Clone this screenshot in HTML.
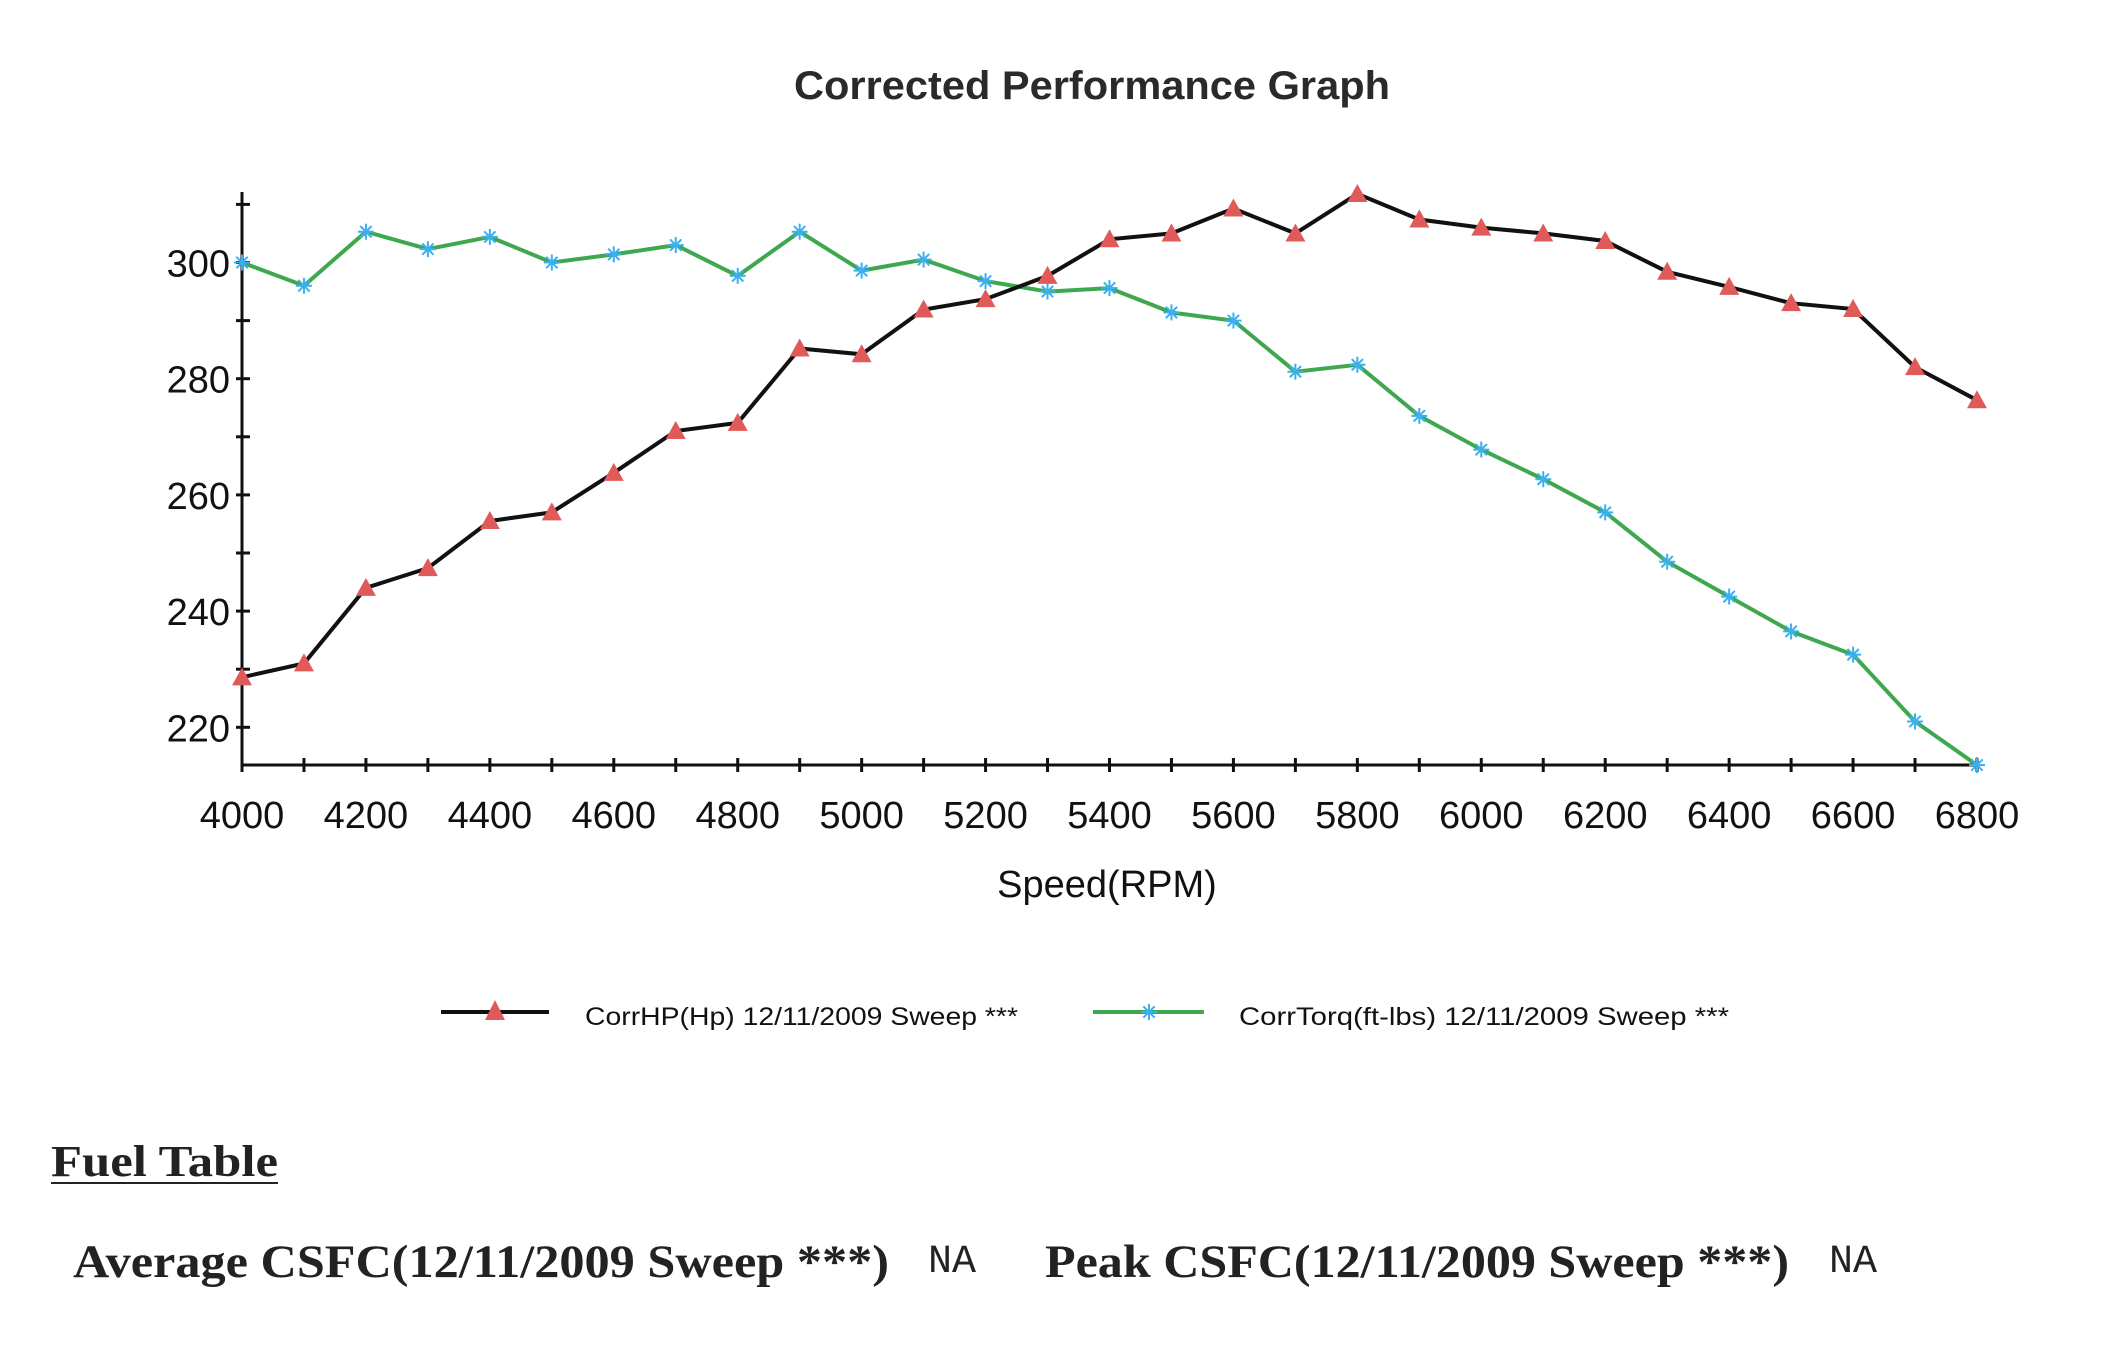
<!DOCTYPE html>
<html><head><meta charset="utf-8"><style>
html,body{margin:0;padding:0;background:#fff;}
svg{display:block;}
</style></head><body>
<svg id="s" xmlns="http://www.w3.org/2000/svg" width="2121" height="1371" viewBox="0 0 2121 1371">
<rect width="2121" height="1371" fill="#fff"/>
<text x="1092" y="99" text-anchor="middle" font-family="Liberation Sans, sans-serif" font-weight="bold" font-size="40" fill="#2a2a2a" textLength="596" lengthAdjust="spacingAndGlyphs">Corrected Performance Graph</text>
<g id="axes" stroke="#111" stroke-width="3" fill="none"></g>
<g id="lab" font-family="Liberation Sans, sans-serif" font-size="38" fill="#111"></g>
<text x="1107" y="897" text-anchor="middle" font-family="Liberation Sans, sans-serif" font-size="38" fill="#111">Speed(RPM)</text>
<g id="ser"></g>
<line x1="441" y1="1012" x2="549" y2="1012" stroke="#111" stroke-width="4"/>
<polygon points="495,1000 485,1020 505,1020" fill="#e05a5a"/>
<text x="585" y="1025" font-family="Liberation Sans, sans-serif" font-size="25" fill="#111" textLength="433" lengthAdjust="spacingAndGlyphs">CorrHP(Hp) 12/11/2009 Sweep ***</text>
<line x1="1093" y1="1012" x2="1204" y2="1012" stroke="#3fa84f" stroke-width="4"/>
<g id="lg"></g>
<text x="1239" y="1025" font-family="Liberation Sans, sans-serif" font-size="25" fill="#111" textLength="490" lengthAdjust="spacingAndGlyphs">CorrTorq(ft-lbs) 12/11/2009 Sweep ***</text>
<text x="51" y="1176" font-family="Liberation Serif, serif" font-weight="bold" font-size="44" fill="#222" textLength="227" lengthAdjust="spacingAndGlyphs">Fuel Table</text>
<line x1="51" y1="1183" x2="278" y2="1183" stroke="#222" stroke-width="2"/>
<text x="73" y="1277" font-family="Liberation Serif, serif" font-weight="bold" font-size="47" fill="#222" textLength="816" lengthAdjust="spacingAndGlyphs">Average CSFC(12/11/2009 Sweep ***)</text>
<text x="928" y="1272" font-family="Liberation Mono, monospace" font-size="40" fill="#222">NA</text>
<text x="1045" y="1277" font-family="Liberation Serif, serif" font-weight="bold" font-size="47" fill="#222" textLength="744" lengthAdjust="spacingAndGlyphs">Peak CSFC(12/11/2009 Sweep ***)</text>
<text x="1829" y="1272" font-family="Liberation Mono, monospace" font-size="40" fill="#222">NA</text>
</svg>
<script>
var NS="http://www.w3.org/2000/svg";
function el(p,t,a,txt){var e=document.createElementNS(NS,t);for(var k in a)e.setAttribute(k,a[k]);if(txt!=null)e.textContent=txt;p.appendChild(e);return e;}
function X(r){return 242+(r-4000)*(1977-242)/2800;}
function Y(v){return 262.5+(300-v)*5.81;}
var ax=document.getElementById('axes'),lab=document.getElementById('lab'),ser=document.getElementById('ser');
var yb=765,yt=192;
el(ax,'line',{x1:242,y1:yt,x2:242,y2:yb});
el(ax,'line',{x1:242,y1:yb,x2:1977,y2:yb});
for(var v=220;v<=310;v+=10){var y=Y(v);el(ax,'line',{x1:236,y1:y,x2:250,y2:y});}
for(var r=4000;r<=6800;r+=100){var x=X(r);el(ax,'line',{x1:x,y1:yb-7,x2:x,y2:yb+7});}
for(var v=220;v<=300;v+=20){el(lab,'text',{x:230,y:Y(v)+14,'text-anchor':'end'},String(v));}
for(var r=4000;r<=6800;r+=200){el(lab,'text',{x:X(r),y:828,'text-anchor':'middle'},String(r));}
var hp=[228.6,231,244,247.4,255.5,257,263.8,271,272.4,285.2,284.2,291.9,293.7,297.7,304,305,309.3,305,311.8,307.4,306,305,303.7,298.4,295.8,293,292,282,276.3];
var tq=[300,296,305.3,302.3,304.4,300,301.4,303,297.7,305.3,298.6,300.5,296.8,295,295.6,291.4,290,281.2,282.4,273.6,267.8,262.7,257,248.5,242.5,236.5,232.5,221,213.5];
function pts(a){return a.map(function(v,i){return X(4000+i*100).toFixed(1)+','+Y(v).toFixed(1);}).join(' ');}
function star(p,x,y,r){for(var a=0;a<4;a++){var an=a*Math.PI/4;el(p,'line',{x1:x-r*Math.cos(an),y1:y-r*Math.sin(an),x2:x+r*Math.cos(an),y2:y+r*Math.sin(an),stroke:'#3ab0f0','stroke-width':2});}}
el(ser,'polyline',{points:pts(tq),fill:'none',stroke:'#3fa84f','stroke-width':4});
el(ser,'polyline',{points:pts(hp),fill:'none',stroke:'#111','stroke-width':4});
tq.forEach(function(v,i){star(ser,X(4000+i*100),Y(v),8);});
hp.forEach(function(v,i){var x=X(4000+i*100),y=Y(v);
 el(ser,'polygon',{points:x+','+(y-10)+' '+(x-10)+','+(y+8)+' '+(x+10)+','+(y+8),fill:'#e05a5a'});});
star(document.getElementById('lg'),1149,1012,8);
</script>
</body></html>
